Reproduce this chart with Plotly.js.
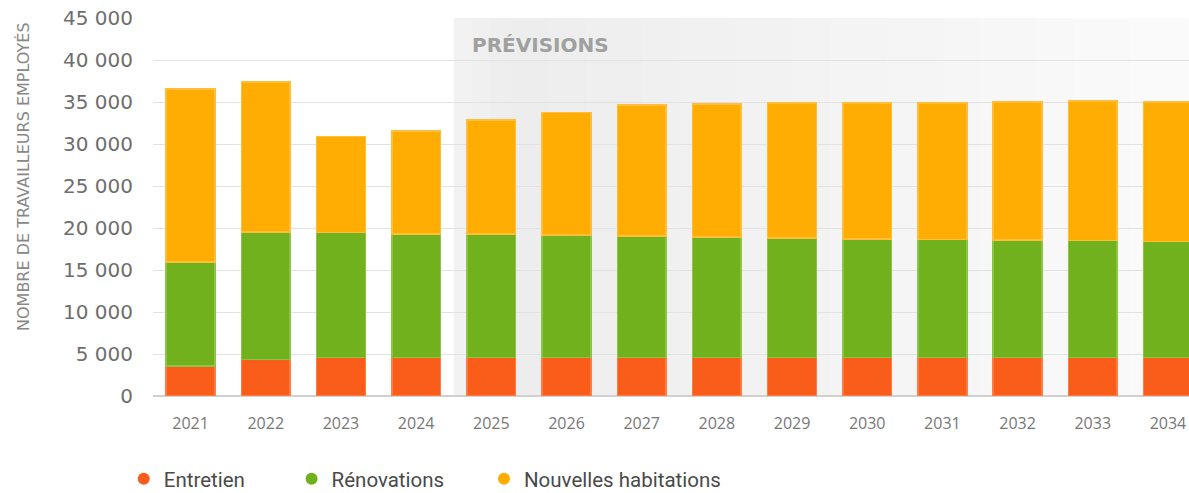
<!DOCTYPE html>
<html>
<head>
<meta charset="utf-8">
<script src="https://cdn.plot.ly/plotly-3.0.1.min.js"></script>
<style>html,body{margin:0;padding:0;background:#fff;}#chart{width:1189px;height:493px;}</style>
</head>
<body>
<div id="chart"></div>
<script>
const years = ['2021','2022','2023','2024','2025','2026','2027','2028','2029','2030','2031','2032','2033','2034'];
const entretien   = [3600, 4350, 4570, 4600, 4600, 4600, 4600, 4600, 4600, 4600, 4600, 4600, 4600, 4600];
const renovations = [12340, 15200, 14900, 14680, 14680, 14560, 14440, 14320, 14200, 14080, 14040, 13960, 13920, 13800];
const nouvelles   = [20590, 17850, 11450, 12240, 13590, 14620, 15580, 15820, 16060, 16180, 16220, 16420, 16580, 16580];
const seriesNames = ['Entretien', 'Rénovations', 'Nouvelles habitations'];
const yTitle = 'NOMBRE DE TRAVAILLEURS EMPLOYÉS';
const forecastLabel = 'PRÉVISIONS';
const forecastStartIndex = 4; // first forecast year = 2025

const fills = ['#fa5d1a', '#72b11e', '#ffad03'];
const borders = ['#ff7c45', '#8cc445', '#ffbe3a'];

const traces = [];
[entretien, renovations, nouvelles].forEach((vals, i) => {
  traces.push({
    type: 'bar', x: years, y: vals, name: seriesNames[i], showlegend: false,
    marker: {color: fills[i], line: {color: borders[i], width: 1.5}},
    hoverinfo: 'x+y+name'
  });
});
const legendIds = ['legend', 'legend2', 'legend3'];
seriesNames.forEach((n, i) => {
  traces.push({
    type: 'scatter', mode: 'markers', x: [null], y: [null], name: n,
    marker: {color: fills[i], size: 12}, legend: legendIds[i], showlegend: true, hoverinfo: 'skip'
  });
});

// forecast background (stepped horizontal gradient)
const shapes = [];
const x0 = forecastStartIndex - 0.5, x1 = years.length - 0.5;
const steps = 40;
function shade(t) {
  let v;
  if (t < 0.08) v = 243 - (t / 0.08) * 6;
  else v = 237 + (t - 0.08) / 0.92 * 14;
  v = Math.round(v);
  return 'rgb(' + v + ',' + v + ',' + v + ')';
}
for (let s = 0; s < steps; s++) {
  const a = x0 + (x1 - x0) * s / steps;
  const b = x0 + (x1 - x0) * (s + 1) / steps;
  shapes.push({type: 'rect', layer: 'below', xref: 'x', yref: 'paper', x0: a, x1: b + 0.01, y0: 0, y1: 1,
    fillcolor: shade((s + 0.5) / steps), line: {width: 0}});
}

const legendBase = {orientation: 'v', yref: 'paper', y: -0.2196, yanchor: 'middle', xanchor: 'left',
  borderwidth: 4, bordercolor: 'rgba(0,0,0,0)',
  font: {family: 'Roboto, sans-serif', size: 20.5, color: '#4a4a4a'}, bgcolor: 'rgba(0,0,0,0)'};

const layout = {
  width: 1189, height: 493,
  margin: {l: 153, r: 0, t: 18, b: 97, autoexpand: false},
  barmode: 'stack', bargap: 0.352,
  separators: ', ',
  paper_bgcolor: '#ffffff', plot_bgcolor: '#ffffff',
  xaxis: {
    type: 'category', range: [-0.5, 13.28], showgrid: false, zeroline: false, showline: false,
    ticks: 'outside', ticklen: 13, tickcolor: 'rgba(0,0,0,0)', automargin: false,
    tickfont: {family: 'Open Sans, sans-serif', size: 16, color: '#777777'}
  },
  yaxis: {
    range: [0, 45000], dtick: 5000, tickformat: ',d', showgrid: true, gridcolor: '#e2e2e2', gridwidth: 1,
    zeroline: true, zerolinecolor: '#d0d0d0', zerolinewidth: 1.5, showline: false, automargin: false,
    ticks: 'outside', ticklen: 15, tickcolor: 'rgba(0,0,0,0)',
    tickfont: {family: 'DejaVu Sans, sans-serif', size: 20, color: '#6e6e6e'}
  },
  legend: Object.assign({}, legendBase, {x: -0.0321}),
  legend2: Object.assign({}, legendBase, {x: 0.1299}),
  legend3: Object.assign({}, legendBase, {x: 0.3156}),
  shapes: shapes,
  annotations: [
    {text: yTitle, textangle: -90, xref: 'paper', yref: 'paper', x: -0.1255, y: 0.582,
     xanchor: 'center', yanchor: 'middle', showarrow: false,
     font: {family: 'DejaVu Sans, sans-serif', size: 16, color: '#888888'}},
    {text: '<b>' + forecastLabel + '</b>', xref: 'x', yref: 'paper', x: x0, xshift: 16, y: 0.929,
     xanchor: 'left', yanchor: 'middle', showarrow: false,
     font: {family: 'DejaVu Sans, sans-serif', size: 20, color: '#a0a0a0'}}
  ]
};

Plotly.newPlot('chart', traces, layout, {displayModeBar: false, staticPlot: true});
</script>
</body>
</html>
